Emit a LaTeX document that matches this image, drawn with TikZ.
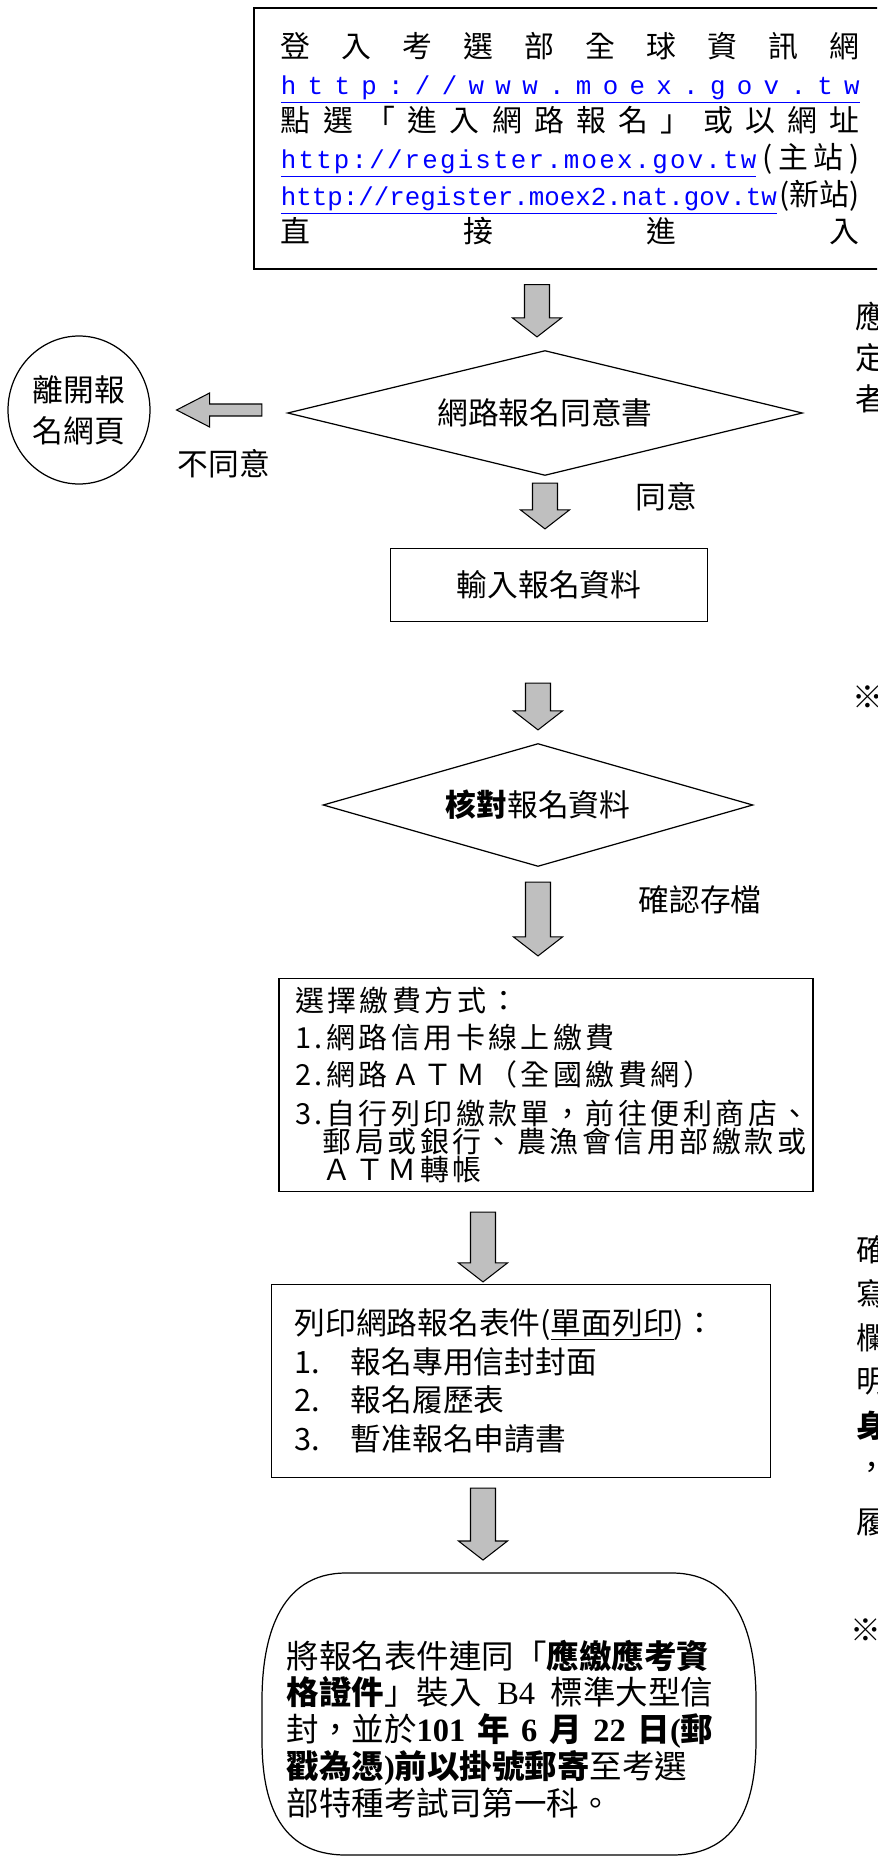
\documentclass[tikz,border=0pt]{standalone}
\usepackage{fontspec}
\setmainfont{Noto Sans CJK TC}
\newfontfamily\lserif{Liberation Serif}
\newfontfamily\lmono{Liberation Mono}
\usetikzlibrary{shapes.geometric,positioning,calc}

% spread the letters of a word over a given width
\newcommand\spreadend{}
\newcommand\spread[2]{\makebox[#1][s]{\spreadloop#2\spreadend\unskip}}
\def\spreadloop#1{\ifx#1\spreadend\else#1\hfil\expandafter\spreadloop\fi}

\begin{document}
\begin{tikzpicture}[x=0.02cm,y=-0.02cm,
    every node/.style={font=\fontsize{17.5pt}{21pt}\selectfont},
    proc/.style={draw,line width=0.7pt,inner sep=0pt},
    choice/.style={draw,diamond,line width=0.7pt,inner sep=0pt},
    note/.style={anchor=west,inner sep=0pt},
    fat shaft/.store in=\fatshaft, fat head/.store in=\fathead,
    fat length/.store in=\fatlength,
    tail gap/.store in=\tailgap, tip gap/.store in=\tipgap,
    fat/.style={draw,fill=black!25,line width=0.6pt,
      fat shaft=0.25cm,fat head=0.49cm,fat length=0.38cm,
      tail gap=0.3cm,tip gap=0.3cm,
      to path={
        ($(\tikztostart)!\tailgap!(\tikztotarget)$) coordinate (fs)
        ($(\tikztotarget)!\tipgap!(\tikztostart)$) coordinate (fe)
        ($(fe)!\fatlength!(fs)$) coordinate (fh)
        ($(fs)!\fatshaft!90:(fe)$) -- ($(fh)!\fatshaft!90:(fe)$)
        -- ($(fh)!\fathead!90:(fe)$) -- (fe)
        -- ($(fh)!\fathead!-90:(fe)$) -- ($(fh)!\fatshaft!-90:(fe)$)
        -- ($(fs)!\fatshaft!-90:(fe)$) -- cycle}}]

    \useasboundingbox (0,0) rectangle (877,1858);
    \clip (0,0) rectangle (877,1858);

    \node[proc,line width=1pt,anchor=north west,minimum height=5.22cm,
      text width=12cm,inner xsep=0.54cm,align=left,
      font=\fontsize{17pt}{21.1pt}\selectfont] (enter) at (253,7) {%
      \spread{11.58cm}{登入考選部全球資訊網}\\
      {\color{blue}\underline{\lmono\fontsize{14.7pt}{21pt}\selectfont\spread{11.58cm}{http://www.moex.gov.tw}}}\\
      \spread{11.58cm}{點選「進入網路報名」或以網址}\\
      \makebox[11.58cm][s]{{\color{blue}\underline{\lmono\fontsize{14.7pt}{21pt}\selectfont\addfontfeature{LetterSpace=8.5}http://register.moex.gov.tw}}\hfil(\hfil 主\hfil 站\hfil)}\\
      \makebox[11.58cm][s]{{\color{blue}\underline{\lmono\fontsize{14.7pt}{21pt}\selectfont http://register.moex2.nat.gov.tw}}\hfil(新站)}\\
      \spread{11.58cm}{直接進入}};

    \node[choice,aspect=4,minimum width=10.3cm,minimum height=2.5cm] (consent) at (545,413) {網路報名同意書};
    \node[draw,ellipse,line width=0.7pt,minimum width=2.84cm,minimum height=2.96cm,
      inner sep=0pt,align=center] (leave) at (79,410) {離開報\\[0.08cm]名網頁};
    \node (no) at (224,464) {不同意};
    \node (yes) at (666,497) {同意};

    \node[proc,minimum width=6.34cm,minimum height=1.46cm] (inp) at (549,585) {輸入報名資料};
    \node[choice,aspect=3.5,minimum width=8.6cm,minimum height=2.46cm] (check) at (538,805) {\textbf{核對}報名資料};
    \node (save) at (700,900) {確認存檔};

    \node[proc,minimum width=10.68cm,minimum height=4.26cm,text width=10.04cm,
      inner xsep=0.32cm,align=left,
      font=\fontsize{16.5pt}{18.2pt}\selectfont\addfontfeature{LetterSpace=12}] (pay) at (546,1085) {%
      選擇繳費方式：\\[0.1cm]
      1.網路信用卡線上繳費\\[0.1cm]
      2.網路ＡＴＭ（全國繳費網）\\[0.14cm]
      3.自行列印繳款單，前往便利商店、\\[-0.08cm]
      \hphantom{3.}郵局或銀行、農漁會信用部繳款或\\[-0.08cm]
      \hphantom{3.}ＡＴＭ轉帳};

    \node[proc,minimum width=9.98cm,minimum height=3.86cm,text width=9.06cm,
      inner xsep=0.46cm,align=left,font=\fontsize{17.5pt}{22.1pt}\selectfont] (print) at (521,1381) {%
      列印網路報名表件(\underline{單面列印})：\\
      1.\quad 報名專用信封封面\\
      2.\quad 報名履歷表\\
      3.\quad 暫准報名申請書};

    \node[align=left,inner sep=0pt,font=\fontsize{18.5pt}{21pt}\selectfont] (mail) at (500,1729) {%
      將報名表件連同「\textbf{應繳應考資}\\
      \makebox[8.54cm][s]{\textbf{格證件}」裝入 {\lserif B4} 標準大型信}\\
      \makebox[8.54cm][s]{封，並於\textbf{{\lserif 101} 年 {\lserif 6} 月 {\lserif 22} 日{\lserif (}郵}}\\
      \textbf{戳為憑{\lserif )}前以掛號郵寄}至考選\\
      部特種考試司第一科。};
    \draw[line width=0.7pt] (346,1573) -- (672,1573)
      .. controls (740,1573) and (756,1640) .. (756,1700) -- (756,1740)
      .. controls (756,1800) and (740,1855) .. (672,1855) -- (346,1855)
      .. controls (278,1855) and (262,1800) .. (262,1740) -- (262,1700)
      .. controls (262,1640) and (278,1573) .. cycle;
    \coordinate (mailtop) at (483,1573);

    % notes cut off at the right edge
    \node[note] (n1) at (855,317) {應};
    \node[note] (n2) at (855,358) {定};
    \node[note] (n3) at (855,399) {者};
    \node[note] (n4) at (852,697) {※};
    \node[note] (n5) at (856,1250) {確};
    \node[note] (n6) at (856,1294) {寫};
    \node[note] (n7) at (856,1338) {欄};
    \node[note] (n8) at (856,1382) {明};
    \node[note] (n9) at (856,1426) {\textbf{身}};
    \node[note] (n10) at (856,1470) {，};
    \node[note] (n11) at (856,1522) {履};
    \node[note] (n12) at (850,1630) {※};

    \draw[fat,tail gap=0.3cm,tip gap=0.26cm] ($(consent.north |- enter.south)+(-8,0)$) to ($(consent.north)+(-8,0)$);
    \draw[fat,fat shaft=0.12cm,fat head=0.34cm,fat length=0.66cm,tail gap=0.5cm,tip gap=0.52cm]
      (consent.west |- leave.east) to (leave.east);
    \draw[fat,tail gap=0.14cm,tip gap=0.38cm] (consent.south) to (consent.south |- inp.north);
    \draw[fat,tail gap=1.22cm,tip gap=0.26cm] (inp.south -| check.north) to (check.north);
    \draw[fat,tail gap=0.3cm,tip gap=0.44cm] (check.south) to (check.south |- pay.north);
    \draw[fat,tail gap=0.4cm,tip gap=0.04cm] (pay.south -| mailtop) to (print.north -| mailtop);
    \draw[fat,tail gap=0.2cm,tip gap=0.26cm] (print.south -| mailtop) to (mailtop);
\end{tikzpicture}
\end{document}
